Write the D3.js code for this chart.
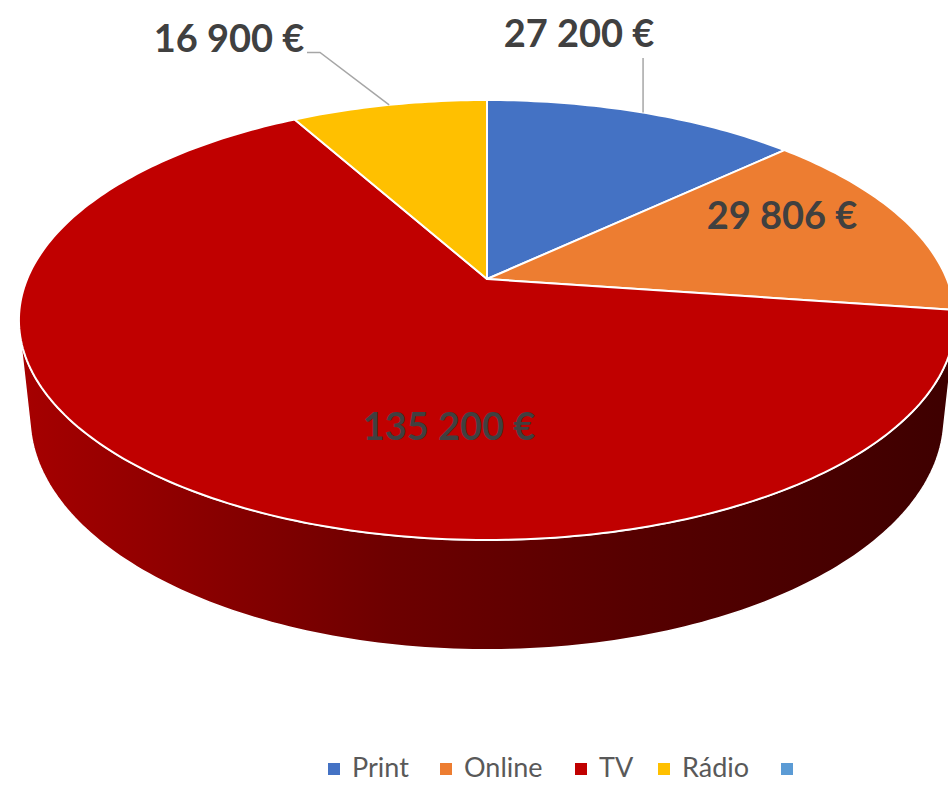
<!DOCTYPE html>
<html><head><meta charset="utf-8">
<script src="https://cdn.jsdelivr.net/npm/d3@7"></script>
<style>html,body{margin:0;padding:0;background:#fff;overflow:hidden}</style>
</head><body>
<svg id="chart" width="948" height="785"></svg>
<script>
const categories = ["Print", "Online", "TV", "Rádio"];
const values = [27200, 29806, 135200, 16900];
const legendLabels = ["Print", "Online", "TV", "Rádio", ""];
const colors = ["#4472c4", "#ed7d31", "#c00000", "#ffc000", "#5b9bd5"];

const svg = d3.select("#chart");
const fmt = d3.formatLocale({decimal: ",", thousands: " ", grouping: [3], currency: ["", " €"]}).format("$,.0f");

// perspective projection of a unit disk
const cx = 487, cy = 279;
const elev = 27.5 * Math.PI / 180, D = 4.76, F = 2189, H = 0.2404;
const se = Math.sin(elev), ce = Math.cos(elev);
function proj(theta, z) { // z = 0 top, z = -H bottom
  const s = Math.sin(theta), c = Math.cos(theta);
  const depth = D + c * ce - z * se;
  const up = c * se + z * ce;
  return [cx + F * s / depth, cy - F * up / depth];
}
function arcPts(a0, a1, z) {
  const pts = [];
  const steps = Math.max(2, Math.ceil(Math.abs(a1 - a0) / (Math.PI / 180)));
  for (let i = 0; i <= steps; i++) pts.push(proj(a0 + (a1 - a0) * i / steps, z));
  return pts;
}

const pie = d3.pie().sort(null).value(d => d.v).startAngle(0).endAngle(2 * Math.PI);
const arcs = pie(categories.map((c, i) => ({c, v: values[i], i})));

// side wall gradient
const defs = svg.append("defs");
const grad = defs.append("linearGradient").attr("id", "wall")
  .attr("gradientUnits", "userSpaceOnUse").attr("x1", 20).attr("y1", 0).attr("x2", 950).attr("y2", 0);
[[0, "#a60000"], [0.4, "#6d0000"], [0.65, "#570000"], [1, "#3e0000"]]
  .forEach(([o, c]) => grad.append("stop").attr("offset", o).attr("stop-color", c));

// visible range of the cylinder wall
const cLim = -1 / (D * ce);
const thA = Math.acos(cLim), thB = 2 * Math.PI - thA;
const line = d3.line();
arcs.forEach(a => {
  const s = Math.max(a.startAngle, thA), e = Math.min(a.endAngle, thB);
  if (e <= s) return;
  const pts = arcPts(s, e, 0).concat(arcPts(e, s, -H));
  svg.append("path").attr("d", line(pts) + "Z")
    .attr("fill", a.data.i === 2 ? "url(#wall)" : d3.color(colors[a.data.i]).darker(1.2))
    .attr("stroke", "#fff").attr("stroke-width", 1.5).attr("stroke-linejoin", "round");
});

// top faces
arcs.forEach(a => {
  const pts = [[cx, cy]].concat(arcPts(a.startAngle, a.endAngle, 0));
  svg.append("path").attr("d", line(pts) + "Z")
    .attr("fill", colors[a.data.i])
    .attr("stroke", "#fff").attr("stroke-width", 2).attr("stroke-linejoin", "round");
});

// labels
const labelFont = "Lato, 'Open Sans', sans-serif";
const labelPos = [[579, 47], [782, 229], [449, 440], [229, 52]];
arcs.forEach((a, k) => {
  const [lx, ly] = labelPos[k];
  svg.append("text").attr("x", lx).attr("y", ly).attr("text-anchor", "middle")
    .attr("font-family", labelFont).attr("font-weight", 700).attr("font-size", 38)
    .attr("fill", "#404040").text(fmt(a.data.v));
});
// leader lines
const mid = a => (a.startAngle + a.endAngle) / 2;
const pPrint = proj(mid(arcs[0]), 0);
svg.append("path").attr("d", line([[pPrint[0], 58], pPrint]))
  .attr("fill", "none").attr("stroke", "#a6a6a6").attr("stroke-width", 1.5);
const pRadio = proj(mid(arcs[3]), 0);
svg.append("path").attr("d", line([[307, 52.5], [320, 52.5], pRadio]))
  .attr("fill", "none").attr("stroke", "#a6a6a6").attr("stroke-width", 1.5);

// legend
const legX = [328, 440, 575, 658, 781];
const leg = svg.append("g");
legendLabels.forEach((t, i) => {
  leg.append("rect").attr("x", legX[i]).attr("y", 763).attr("width", 12).attr("height", 12).attr("fill", colors[i]);
  leg.append("text").attr("x", legX[i] + 24).attr("y", 777)
    .attr("font-family", labelFont).attr("font-size", 27).attr("fill", "#595959").text(t);
});
</script>
</body></html>
